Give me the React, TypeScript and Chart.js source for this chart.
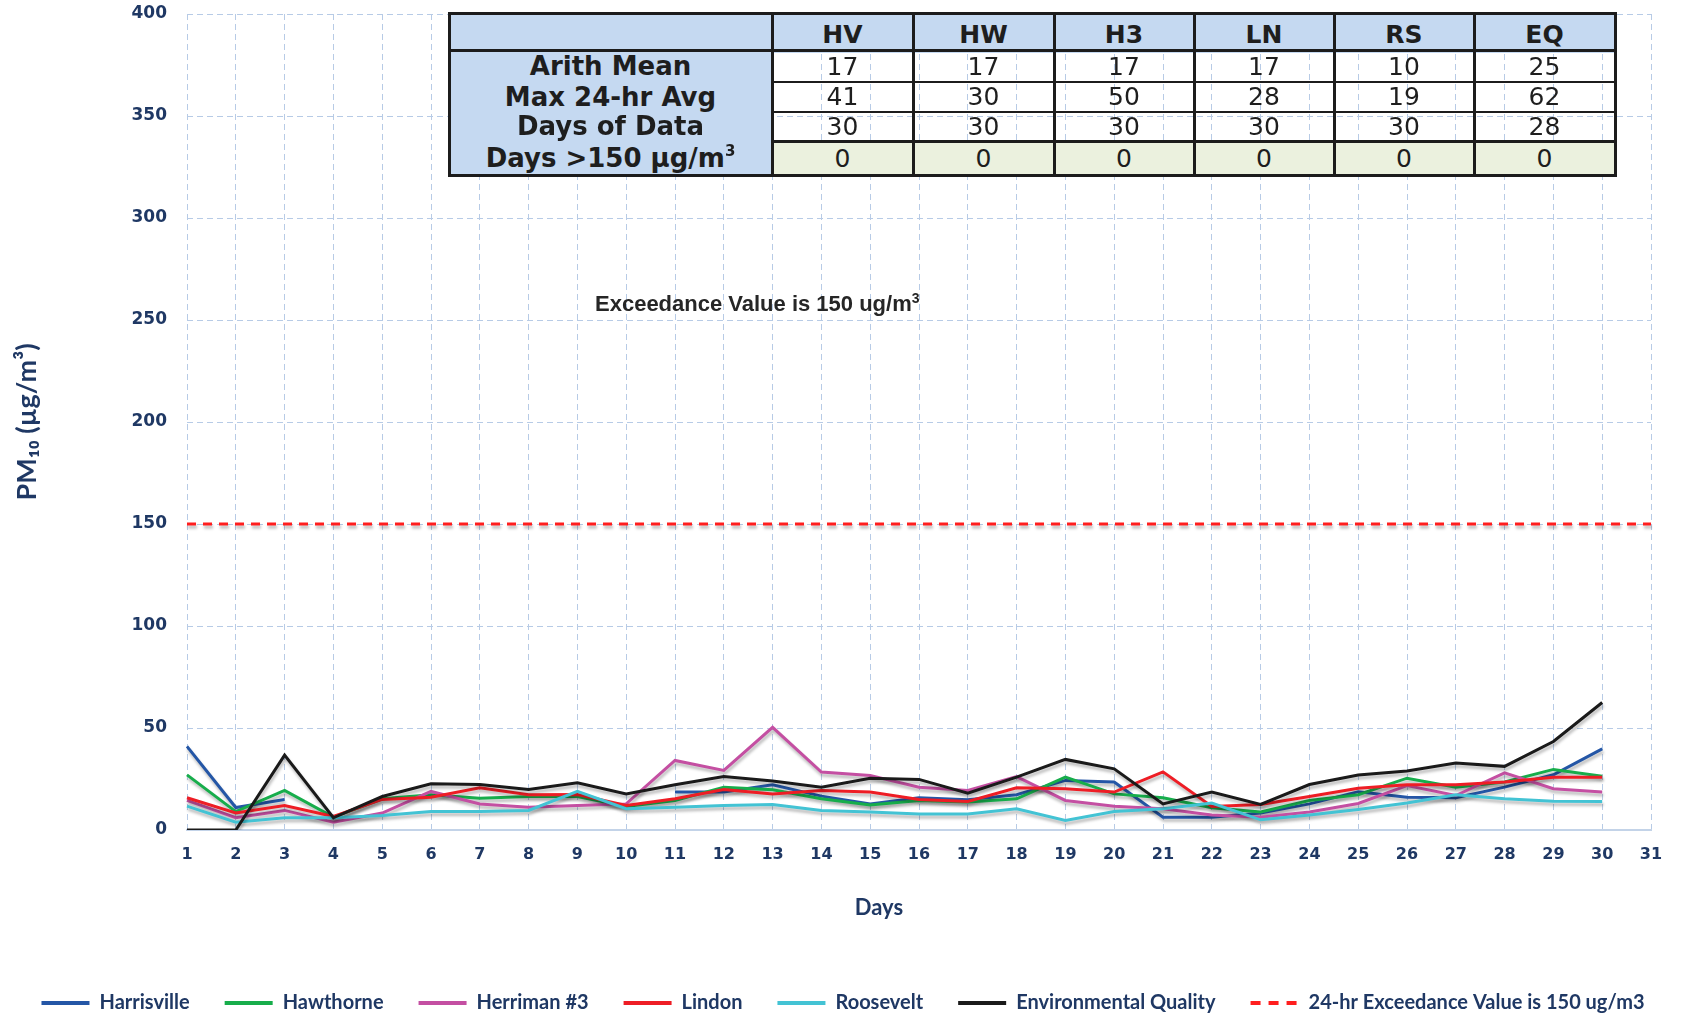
import React, { useEffect, useRef } from 'react';
import { Chart, registerables } from 'chart.js';

Chart.register(...registerables);

const days = ['1', '2', '3', '4', '5', '6', '7', '8', '9', '10', '11', '12', '13', '14', '15', '16', '17', '18', '19', '20', '21', '22', '23', '24', '25', '26', '27', '28', '29', '30', '31'];

const harrisville = [41, 11, 15, null, null, null, null, null, null, null, 18.6, 18.6, 22.2, 16.6, 12.8, 15.8, 14.8, 17.3, 24.3, 23.5, 6.3, 6.3, 8.3, 12.8, 18.8, 16.1, 15.8, 21.0, 27.1, 39.8, null];
const hawthorne = [27, 9, 19.4, 6.3, 15.3, 17.3, 15.6, 16.4, 16.4, 11.5, 14.5, 21.0, 19.7, 15.3, 12.3, 14.5, 13.7, 15.3, 25.9, 17.7, 15.8, 10.9, 8.8, 14.5, 17.3, 25.4, 21.0, 23.5, 29.7, 26.3, null];
const herriman = [14.5, 6.0, 9.6, 3.8, 8.3, 18.9, 12.8, 11.2, 12.0, 12.8, 34.1, 29.2, 50.3, 28.4, 26.7, 21.0, 19.4, 26.2, 14.5, 11.7, 10.4, 7.4, 6.3, 8.8, 13.0, 21.8, 16.9, 28.0, 20.2, 18.6, null];
const lindon = [15.8, 8.4, 12.0, 6.6, 15.0, 16.1, 20.7, 17.3, 17.4, 12.0, 15.3, 19.9, 17.7, 19.4, 18.6, 15.0, 14.0, 20.7, 20.2, 18.6, 28.5, 11.5, 12.5, 16.4, 20.5, 22.2, 22.2, 23.5, 25.9, 25.9, null];
const roosevelt = [11.7, 3.8, 6.0, 6.0, 7.1, 9.1, 9.1, 9.6, 18.9, 10.4, 11.2, 12.0, 12.5, 9.6, 8.8, 7.9, 7.9, 10.4, 4.7, 9.1, 10.4, 13.2, 5.0, 7.4, 10.1, 13.2, 17.3, 15.3, 14.1, 14.0, null];
const envQuality = [0, 0, 36.7, 6.0, 16.4, 22.7, 22.3, 19.9, 23.1, 17.7, 22.2, 26.2, 24.0, 21.0, 25.4, 24.8, 18.0, 25.9, 34.6, 30.0, 12.8, 18.6, 12.5, 22.3, 27.0, 28.9, 32.8, 31.2, 43.4, 62.5, null];
const exceedance = [150, 150, 150, 150, 150, 150, 150, 150, 150, 150, 150, 150, 150, 150, 150, 150, 150, 150, 150, 150, 150, 150, 150, 150, 150, 150, 150, 150, 150, 150, 150];

const seriesLabels = ['Harrisville', 'Hawthorne', 'Herriman #3', 'Lindon', 'Roosevelt', 'Environmental Quality', '24-hr Exceedance Value is 150 ug/m3'];
const seriesColors = ['#2456a6', '#17ad4b', '#c44fa2', '#ee1d25', '#43c3d4', '#1a1a1a', '#ff1e1e'];

const tableColumns = ['HV', 'HW', 'H3', 'LN', 'RS', 'EQ'];
const arithMean = [17, 17, 17, 17, 10, 25];
const max24hr = [41, 30, 50, 28, 19, 62];
const daysOfData = [30, 30, 30, 30, 30, 28];
const daysOver150 = [0, 0, 0, 0, 0, 0];

const yTicks = [0, 50, 100, 150, 200, 250, 300, 350, 400];

const NAVY = '#1f3864';

const shadowPlugin = {
  id: 'lineShadow',
  beforeDatasetDraw(chart: any) {
    const ctx = chart.ctx;
    ctx.save();
    ctx.shadowColor = 'rgba(0,0,0,0.28)';
    ctx.shadowBlur = 3;
    ctx.shadowOffsetX = 1;
    ctx.shadowOffsetY = 3;
  },
  afterDatasetDraw(chart: any) {
    chart.ctx.restore();
  },
};

const LEGEND_PAD = 35;
const LEGEND_FONT = 20;
const LEGEND_CENTER = 1003;
const CANVAS_H = 1021;
const CANVAS_W = 1686;
const legendHeight = CANVAS_H - (LEGEND_CENTER - LEGEND_PAD - LEGEND_FONT / 2);
const chartBottom = 830;
const xAxisHeight = CANVAS_H - legendHeight - chartBottom;
const X_TITLE_SIZE = 22;
const X_TITLE_CENTER = 907.5;
const xTitlePadBottom = chartBottom + xAxisHeight - X_TITLE_CENTER - (X_TITLE_SIZE * 1.2) / 2;

// table geometry (px)
const TBL_LEFT = 449;
const TBL_TOP = 13;
const colEdges = [0, 323, 464, 605, 745, 885, 1025, 1166];
const rowEdges = [0, 37, 69, 98.5, 128, 162];

export default function App() {
  const canvasRef = useRef<HTMLCanvasElement | null>(null);

  useEffect(() => {
    if (!canvasRef.current) return;
    const seriesData = [harrisville, hawthorne, herriman, lindon, roosevelt, envQuality, exceedance];
    const datasets = seriesData.map((d, i) => ({
      label: seriesLabels[i],
      data: d,
      borderColor: seriesColors[i],
      backgroundColor: seriesColors[i],
      borderWidth: 3,
      borderDash: i === 6 ? [9, 7] : [],
      pointRadius: 0,
      pointHoverRadius: 0,
      tension: 0,
      spanGaps: false,
      order: 7 - i,
    }));

    const chart = new Chart(canvasRef.current, {
      type: 'line',
      data: { labels: days, datasets },
      plugins: [shadowPlugin],
      options: {
        responsive: false,
        animation: false,
        devicePixelRatio: 1,
        layout: { padding: { top: 14, left: 0, right: 0, bottom: 0 } },
        plugins: {
          tooltip: { enabled: false },
          legend: {
            position: 'bottom',
            maxHeight: legendHeight,
            labels: {
              usePointStyle: true,
              pointStyle: 'line',
              pointStyleWidth: 48,
              padding: LEGEND_PAD,
              color: NAVY,
              font: { family: 'Lato, "Noto Sans", sans-serif', size: LEGEND_FONT, weight: 'bold' },
              generateLabels: (ch: any) =>
                ch.data.datasets.map((ds: any, i: number) => ({
                  text: ds.label,
                  fillStyle: ds.borderColor,
                  strokeStyle: ds.borderColor,
                  lineWidth: 4,
                  lineDash: i === 6 ? [10, 8] : [],
                  pointStyle: 'line',
                  datasetIndex: i,
                  hidden: false,
                  fontColor: NAVY,
                })),
            },
          },
        },
        scales: {
          x: {
            type: 'category',
            offset: false,
            grid: { color: '#b7cbe6', lineWidth: 1, drawTicks: false },
            border: { display: true, color: '#c3d3e8', width: 2, dash: [6, 4] },
            ticks: {
              autoSkip: false,
              maxRotation: 0,
              padding: 15,
              color: NAVY,
              font: { family: '"DejaVu Sans", sans-serif', size: 16, weight: 'bold' },
            },
            title: {
              display: true,
              text: 'Days' + ' '.repeat(15),
              color: NAVY,
              font: { family: 'Lato, "Noto Sans", sans-serif', size: X_TITLE_SIZE, weight: 'bold' },
              padding: { top: 0, bottom: xTitlePadBottom },
            },
            afterFit: (s: any) => {
              s.height = xAxisHeight;
              s.paddingLeft = 0;
              s.paddingRight = 0;
            },
          },
          y: {
            type: 'linear',
            min: 0,
            max: 400,
            grid: { color: '#b7cbe6', lineWidth: 1, drawTicks: false },
            border: { display: false, dash: [6, 4] },
            afterBuildTicks: (s: any) => {
              s.ticks = yTicks.map((v) => ({ value: v }));
            },
            ticks: {
              padding: 20,
              color: NAVY,
              font: { family: '"DejaVu Sans", sans-serif', size: 17, weight: 'bold' },
            },
            title: {
              display: true,
              text: 'PM₁₀ (µg/m³)',
              color: NAVY,
              font: { family: 'Lato, "Noto Sans", sans-serif', size: 27, weight: 'bold' },
              padding: { top: 11, bottom: 0 },
            },
            afterFit: (s: any) => {
              s.width = 187;
              s.paddingTop = 0;
              s.paddingBottom = 0;
            },
          },
          y2: {
            type: 'linear',
            position: 'right',
            display: true,
            grid: { display: false, drawOnChartArea: false },
            border: { display: false },
            ticks: { display: false },
            afterFit: (s: any) => {
              s.width = 35;
              s.paddingTop = 0;
              s.paddingBottom = 0;
            },
          },
        },
      },
    } as any);
    return () => chart.destroy();
  }, []);

  const cellFont = '"DejaVu Sans", sans-serif';
  const INK = '#1c1c1c';
  const rowLabels = ['Arith Mean', 'Max 24-hr Avg', 'Days of Data'];
  const rowValues = [arithMean, max24hr, daysOfData];

  const cell = (key: string, c: number, r: number, bg: string, content: any, bold: boolean, size: number, extra: any = {}) => (
    <div
      key={key}
      style={{
        position: 'absolute',
        left: colEdges[c],
        top: rowEdges[r],
        width: colEdges[c + 1] - colEdges[c],
        height: rowEdges[r + 1] - rowEdges[r],
        background: bg,
        display: 'flex',
        alignItems: 'center',
        justifyContent: 'center',
        fontFamily: cellFont,
        fontWeight: bold ? 'bold' : 'normal',
        fontSize: size,
        lineHeight: '1',
        color: '#1e1e1e',
        whiteSpace: 'nowrap',
        ...extra,
      }}
    >
      {content}
    </div>
  );

  const hLine = (key: string, y: number, x1: number, x2: number, w: number) => (
    <div key={key} style={{ position: 'absolute', left: x1 - 1.5, top: y - w / 2, width: x2 - x1 + 3, height: w, background: INK }} />
  );
  const vLine = (key: string, x: number, y1: number, y2: number, w: number) => (
    <div key={key} style={{ position: 'absolute', left: x - w / 2, top: y1 - 1.5, width: w, height: y2 - y1 + 3, background: INK }} />
  );

  const W = colEdges[colEdges.length - 1];
  const H = rowEdges[rowEdges.length - 1];

  const cells: any[] = [];
  cells.push(cell('h0', 0, 0, '#c5d9f1', '', true, 25));
  tableColumns.forEach((c, i) => cells.push(cell('h' + c, i + 1, 0, '#c5d9f1', c, true, 25, { paddingTop: 3 })));
  rowLabels.forEach((lab, r) => {
    cells.push(cell('l' + r, 0, r + 1, '#c5d9f1', lab, true, 26));
    rowValues[r].forEach((v, i) => cells.push(cell('v' + r + '-' + i, i + 1, r + 1, 'transparent', String(v), false, 25)));
  });
  cells.push(
    cell(
      'l3',
      0,
      4,
      '#c5d9f1',
      <span>
        Days &gt;150 µg/m<span style={{ fontSize: 15, position: 'relative', top: -11 }}>3</span>
      </span>,
      true,
      26
    )
  );
  daysOver150.forEach((v, i) => cells.push(cell('z' + i, i + 1, 4, '#ebf1de', String(v), false, 25)));

  const lines: any[] = [];
  lines.push(hLine('top', 0, 0, W, 3));
  lines.push(hLine('bottom', H, 0, W, 3));
  lines.push(hLine('hdr', rowEdges[1], 0, W, 3));
  lines.push(hLine('r1', rowEdges[2], colEdges[1], W, 2));
  lines.push(hLine('r2', rowEdges[3], colEdges[1], W, 2));
  lines.push(hLine('r3', rowEdges[4], colEdges[1], W, 3));
  colEdges.forEach((x, i) => lines.push(vLine('c' + i, x, 0, H, 3)));

  return (
    <div style={{ position: 'fixed', left: 0, top: 0, width: CANVAS_W, height: CANVAS_H, background: '#ffffff', overflow: 'hidden' }}>
      <canvas ref={canvasRef} width={CANVAS_W} height={CANVAS_H} style={{ position: 'absolute', left: 0, top: 0, width: CANVAS_W, height: CANVAS_H }} />
      <div style={{ position: 'absolute', left: TBL_LEFT, top: TBL_TOP, width: W, height: H, pointerEvents: 'none' }}>
        {cells}
        {lines}
      </div>
      <div
        style={{
          position: 'absolute',
          left: 595,
          top: 290,
          fontFamily: '"Liberation Sans", Arial, sans-serif',
          fontWeight: 'bold',
          fontSize: 22,
          lineHeight: '28px',
          color: '#262626',
          whiteSpace: 'nowrap',
          pointerEvents: 'none',
        }}
      >
        Exceedance Value is 150 ug/m<span style={{ fontSize: 14, position: 'relative', top: -8 }}>3</span>
      </div>
    </div>
  );
}
